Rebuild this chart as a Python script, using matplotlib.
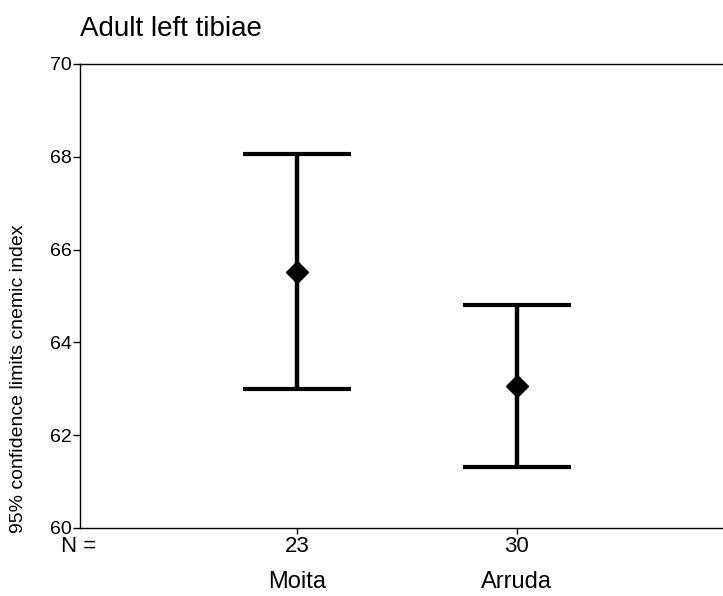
import matplotlib
matplotlib.use('Agg')
import matplotlib.pyplot as plt

groups = ['Moita', 'Arruda']
n_values = ['23', '30']
means = [65.52, 63.05]
lower = [62.99, 61.32]
upper = [68.05, 64.80]

plt.rcParams['font.family'] = ['Liberation Sans', 'DejaVu Sans']

fig = plt.figure(figsize=(7.23, 5.96), dpi=100)
ax = fig.add_axes([80/723, 68/596, 657/723, 464/596])

xs = [1, 2]
err = [[m - l for m, l in zip(means, lower)], [u - m for m, u in zip(means, upper)]]
ax.errorbar(xs, means, yerr=err, fmt='D', color='black', ecolor='black',
            elinewidth=3.2, capsize=39, capthick=3.0, markersize=11)

ax.set_xlim(0.015, 3.0)
ax.set_ylim(60, 70)
ax.set_yticks([60, 62, 64, 66, 68, 70])
ax.tick_params(axis='y', labelsize=14, length=5, width=1, direction='out', pad=1)
ax.set_xticks(xs)
ax.set_xticklabels([])
ax.tick_params(axis='x', length=4, width=1, direction='out')
for s in ['left', 'bottom', 'top']:
    ax.spines[s].set_linewidth(1)
ax.spines['right'].set_visible(False)

tr = ax.get_xaxis_transform()
fig.text(96/723, 1 - 546/596, 'N =', ha='right', va='center', fontsize=16)
for x, n, g in zip(xs, n_values, groups):
    ax.text(x, -0.039, n, transform=tr, ha='center', va='center', fontsize=16)
    ax.text(x, -0.117, g, transform=tr, ha='center', va='center', fontsize=17)

fig.text(19/723, 1 - 379/596, '95% confidence limits cnemic index', rotation=90,
         ha='center', va='center', fontsize=14)
fig.text(80/723, 1 - 29/596, 'Adult left tibiae', ha='left', va='center', fontsize=20)

fig.savefig('out.png', dpi=100)
